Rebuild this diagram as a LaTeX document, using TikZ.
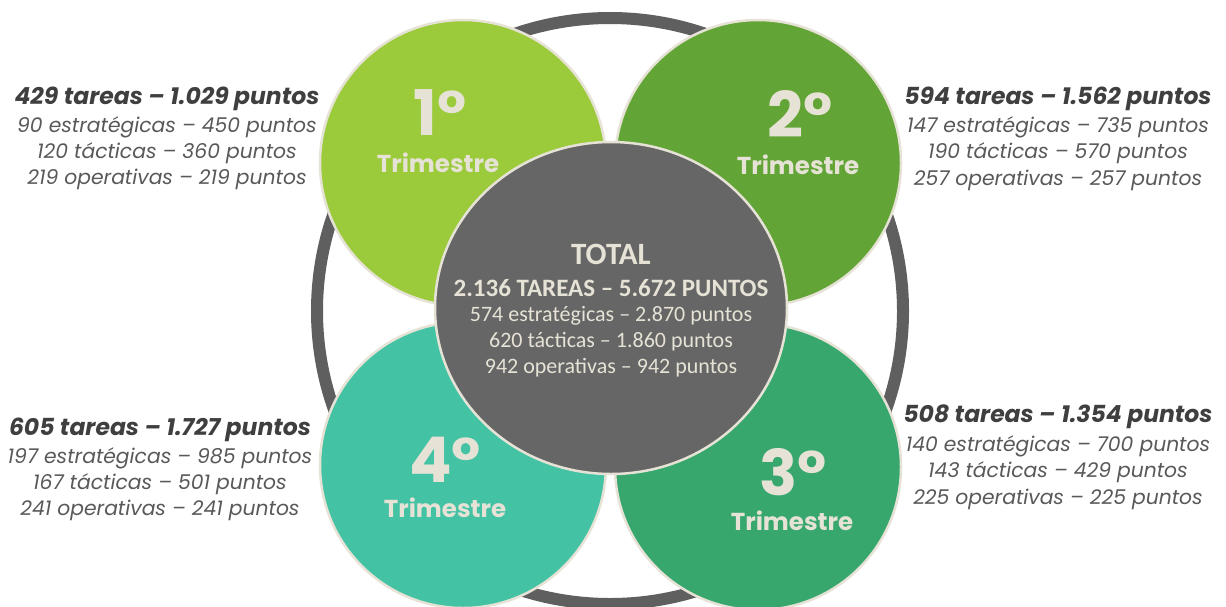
\documentclass[tikz,border=0pt]{standalone}
\usepackage{fontspec}
\setmainfont{Poppins}
\newfontfamily\calib{Carlito}
\usetikzlibrary{shapes.geometric}
\definecolor{ringgray}{HTML}{5F5F5F}
\definecolor{cone}{HTML}{9BCA3B}
\definecolor{ctwo}{HTML}{62A536}
\definecolor{cthree}{HTML}{37A76E}
\definecolor{cfour}{HTML}{44C2A4}
\definecolor{ccenter}{HTML}{666666}
\definecolor{beige}{HTML}{E6E3D6}
\definecolor{txtdark}{HTML}{3F3F3F}
\definecolor{txtlight}{HTML}{595959}
\tikzset{
  quarter/.style={circle, draw=beige, line width=2.5pt, minimum size=286pt, inner sep=0pt},
  numtxt/.style={text=beige, font=\fontsize{63}{63}\selectfont\bfseries},
  trimtxt/.style={text=beige, font=\fontsize{24.5}{24.5}\selectfont\bfseries},
  headtxt/.style={text=txtdark, font=\fontsize{23.5}{23.5}\selectfont\bfseries\itshape},
  subtxt/.style={text=txtlight, font=\fontsize{20.3}{20.3}\selectfont\itshape},
  ctitle/.style={text=beige, font=\calib\fontsize{31}{31}\selectfont\bfseries},
  chead/.style={text=beige, font=\calib\fontsize{25}{25}\selectfont\bfseries},
  csub/.style={text=beige, font=\calib\fontsize{22}{22}\selectfont},
}
\begin{document}
\begin{tikzpicture}[x=1pt,y=-1pt]
\useasboundingbox[fill=white] (0,0) rectangle (1226,606);
% outer ring
\node[circle, draw=ringgray, line width=12pt, minimum size=586pt, inner sep=0pt] (ring) at (610,311) {};
% quarter circles
\node[quarter, fill=cone] (q1) at (463,163) {};
\node[quarter, fill=ctwo] (q2) at (758,163) {};
\node[quarter, fill=cfour] (q4) at (463,465) {};
\node[quarter, fill=cthree] (q3) at (758,467) {};
% centre
\node[ellipse, fill=ccenter, draw=beige, line width=2.5pt, minimum width=352pt, minimum height=332pt, inner sep=0pt] (ctr) at (611,308) {};
% numbers
\node[numtxt] (n1) at (440,112) {1°};
\node[trimtxt] (t1) at (438,163) {Trimestre};
\node[numtxt] (n2) at (800,114) {2°};
\node[trimtxt] (t2) at (798,165) {Trimestre};
\node[numtxt] (n4) at (445,460) {4°};
\node[trimtxt] (t4) at (445,508) {Trimestre};
\node[numtxt] (n3) at (793,472) {3°};
\node[trimtxt] (t3) at (792,521) {Trimestre};
% centre text
\node[ctitle] (ctot) at (611,254) {TOTAL};
\node[chead] (chd) at (611,288) {2.136 TAREAS – 5.672 PUNTOS};
\node[csub] (cs1) at (611,316) {574 estratégicas – 2.870 puntos};
\node[csub] (cs2) at (611,342) {620 tácticas – 1.860 puntos};
\node[csub] (cs3) at (611,368) {942 operativas – 942 puntos};
% side texts
\node[headtxt] (a0) at (167,99) {429 tareas – 1.029 puntos};
\node[subtxt] (a1) at (167,127) {90 estratégicas – 450 puntos};
\node[subtxt] (a2) at (167,153) {120 tácticas – 360 puntos};
\node[subtxt] (a3) at (167,179) {219 operativas – 219 puntos};
\node[headtxt] (b0) at (1058,99) {594 tareas – 1.562 puntos};
\node[subtxt] (b1) at (1058,127) {147 estratégicas – 735 puntos};
\node[subtxt] (b2) at (1058,153) {190 tácticas – 570 puntos};
\node[subtxt] (b3) at (1058,180) {257 operativas – 257 puntos};
\node[headtxt] (d0) at (160,430) {605 tareas – 1.727 puntos};
\node[subtxt] (d1) at (160,458) {197 estratégicas – 985 puntos};
\node[subtxt] (d2) at (160,484) {167 tácticas – 501 puntos};
\node[subtxt] (d3) at (160,510) {241 operativas – 241 puntos};
\node[headtxt] (e0) at (1058,417) {508 tareas – 1.354 puntos};
\node[subtxt] (e1) at (1058,446) {140 estratégicas – 700 puntos};
\node[subtxt] (e2) at (1058,472) {143 tácticas – 429 puntos};
\node[subtxt] (e3) at (1058,499) {225 operativas – 225 puntos};
\end{tikzpicture}
\end{document}
